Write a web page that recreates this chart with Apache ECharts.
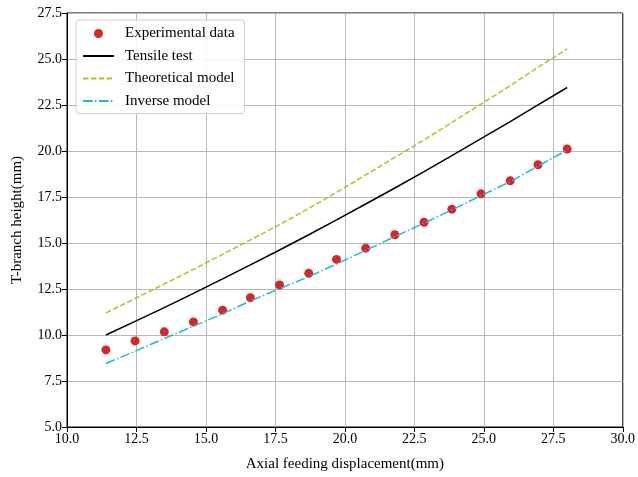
<!DOCTYPE html>
<html><head><meta charset="utf-8">
<script src="https://cdn.jsdelivr.net/npm/echarts@6/dist/echarts.min.js"></script>
<style>html,body{margin:0;padding:0;background:#fff}#c{width:638px;height:477px}</style>
</head><body><div id="c"></div>
<script>
var xValues = [11.4, 12.45, 13.5, 14.55, 15.6, 16.6, 17.65, 18.7, 19.7, 20.75, 21.8, 22.85, 23.85, 24.9, 25.95, 26.95, 28.0];
var experimental = [9.19, 9.68, 10.17, 10.71, 11.35, 12.03, 12.72, 13.35, 14.11, 14.72, 15.45, 16.13, 16.84, 17.67, 18.38, 19.25, 20.11];
var tensile = [10.0, 10.74, 11.49, 12.26, 13.05, 13.81, 14.62, 15.45, 16.26, 17.12, 17.99, 18.88, 19.75, 20.67, 21.6, 22.51, 23.45];
var theoretical = [11.2, 11.98, 12.77, 13.57, 14.38, 15.17, 16.0, 16.88, 17.75, 18.7, 19.65, 20.6, 21.55, 22.55, 23.55, 24.55, 25.55];
var inverse = [8.45, 9.12, 9.81, 10.48, 11.15, 11.85, 12.52, 13.17, 13.86, 14.6, 15.35, 16.08, 16.8, 17.58, 18.33, 19.18, 20.05];
var seriesNames = ['Experimental data', 'Tensile test', 'Theoretical model', 'Inverse model'];
var xAxisName = 'Axial feeding displacement(mm)';
var yAxisName = 'T-branch height(mm)';

function pairs(ys){ return xValues.map(function(x,i){ return [x, ys[i]]; }); }
var font = 'Liberation Serif';
var hiddenSym = {color: 'transparent', borderColor: 'transparent', borderWidth: 0, opacity: 0};
var dotIcon = 'path://M0,0 M31,14 M20,7 A4.5,4.5 0 1,1 11,7 A4.5,4.5 0 1,1 20,7 Z';
var chart = echarts.init(document.getElementById('c'));
chart.setOption({
  animation: false,
  backgroundColor: '#fff',
  grid: {left: 67, right: 13, top: 13, bottom: 49, show: true, borderColor: '#000', borderWidth: 1},
  legend: {
    orient: 'vertical', left: 76, top: 20,
    padding: [6, 10, 5, 6],
    itemWidth: 31, itemHeight: 14, itemGap: 7.5,
    borderColor: '#d0d0d0', borderWidth: 1, borderRadius: 3,
    backgroundColor: 'rgba(255,255,255,0.85)',
    textStyle: {fontFamily: font, fontSize: 15, color: '#000', padding: [0,0,0,6]},
    data: [
      {name: seriesNames[0], icon: dotIcon},
      {name: seriesNames[1], itemStyle: hiddenSym},
      {name: seriesNames[2], itemStyle: hiddenSym},
      {name: seriesNames[3], itemStyle: hiddenSym}
    ]
  },
  xAxis: {
    type: 'value', min: 10, max: 30, interval: 2.5,
    name: xAxisName, nameLocation: 'middle', nameGap: 30,
    nameTextStyle: {fontFamily: font, fontSize: 15, color: '#000'},
    axisLine: {onZero: false, lineStyle: {color: '#000', width: 1}},
    axisTick: {inside: false, length: 5, lineStyle: {color: '#000'}},
    axisLabel: {fontFamily: font, fontSize: 14, color: '#000', margin: 5, formatter: function(v){return v.toFixed(1);}},
    splitLine: {show: true, lineStyle: {color: '#b8b8b8', width: 1}}
  },
  yAxis: {
    type: 'value', min: 5, max: 27.5, interval: 2.5,
    name: yAxisName, nameLocation: 'middle', nameGap: 42,
    nameTextStyle: {fontFamily: font, fontSize: 15, color: '#000'},
    axisLine: {onZero: false, lineStyle: {color: '#000', width: 1}},
    axisTick: {inside: false, length: 5, lineStyle: {color: '#000'}},
    axisLabel: {fontFamily: font, fontSize: 14, color: '#000', margin: 5, formatter: function(v){return v.toFixed(1);}},
    splitLine: {show: true, lineStyle: {color: '#b8b8b8', width: 1}}
  },
  series: [
    {name: seriesNames[1], type: 'line', data: pairs(tensile), showSymbol: false, symbol: 'none',
     lineStyle: {color: '#000', width: 1.5}, itemStyle: {color: '#000'}, z: 3},
    {name: seriesNames[2], type: 'line', data: pairs(theoretical), showSymbol: false, symbol: 'none',
     lineStyle: {color: '#bcbd22', width: 1.5, type: [5.5, 2.4]}, itemStyle: {color: '#bcbd22'}, z: 3},
    {name: seriesNames[3], type: 'line', data: pairs(inverse), showSymbol: false, symbol: 'none',
     lineStyle: {color: '#17becf', width: 1.5, type: [9.6, 2.4, 1.5, 2.4]}, itemStyle: {color: '#17becf'}, z: 4},
    {name: seriesNames[0], type: 'scatter', data: pairs(experimental), symbol: 'circle', symbolSize: 9,
     itemStyle: {color: '#d62728', opacity: 1}, z: 2}
  ]
});
</script></body></html>
